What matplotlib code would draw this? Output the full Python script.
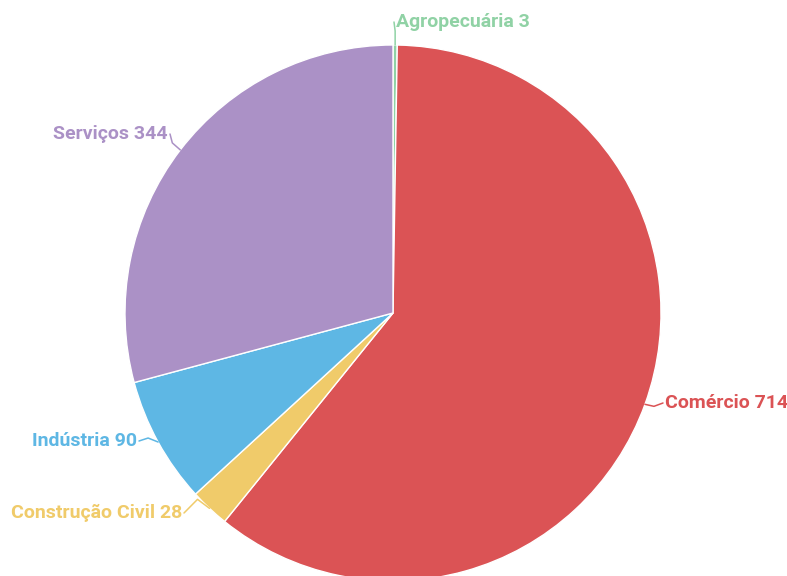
import numpy as np
import matplotlib.pyplot as plt

# Empresas por setor
setores = ['Agropecuária', 'Comércio', 'Construção Civil', 'Indústria', 'Serviços']
valores = [3, 714, 28, 90, 344]
cores = ['#90D2A5', '#DB5355', '#F0CB6A', '#5EB7E4', '#AB91C6']

W, H = 787, 576
fig = plt.figure(figsize=(W / 100, H / 100), dpi=100)
ax = fig.add_axes([0, 0, 1, 1])

cx, cy, r = 393, H - 313, 268
wedges, _ = ax.pie(valores, colors=cores, startangle=90, counterclock=False,
                   center=(cx, cy), radius=r, frame=False,
                   wedgeprops=dict(edgecolor='white', linewidth=1))

# label placement: (text x, text y, alignment, elbow offset)
rotulos = {
    'Agropecuária': (396, H - 22, 'left', (0, 14)),
    'Comércio': (665, H - 403, 'left', (9, -2)),
    'Construção Civil': (182, H - 513, 'right', (-12, 9)),
    'Indústria': (137, H - 441, 'right', (-10, 4)),
    'Serviços': (168, H - 134, 'right', (-8, 7)),
}

for w, nome, v, cor in zip(wedges, setores, valores, cores):
    ang = np.deg2rad((w.theta1 + w.theta2) / 2)
    px, py = cx + r * np.cos(ang), cy + r * np.sin(ang)
    tx, ty, ha, (dx, dy) = rotulos[nome]
    ex, ey = px + dx, py + dy
    lx = tx - 2 if ha == 'left' else tx + 2
    ax.plot([px, ex, lx], [py, ey, ty], color=cor, lw=1.1, solid_capstyle='round')
    ax.text(tx, ty, f'{nome} {v}', color=cor, ha=ha, va='center',
            fontsize=14, fontweight='bold', family='Roboto')

ax.set_xlim(0, W)
ax.set_ylim(0, H)
ax.set_aspect('equal')
ax.axis('off')

fig.savefig('out.png', dpi=100)
